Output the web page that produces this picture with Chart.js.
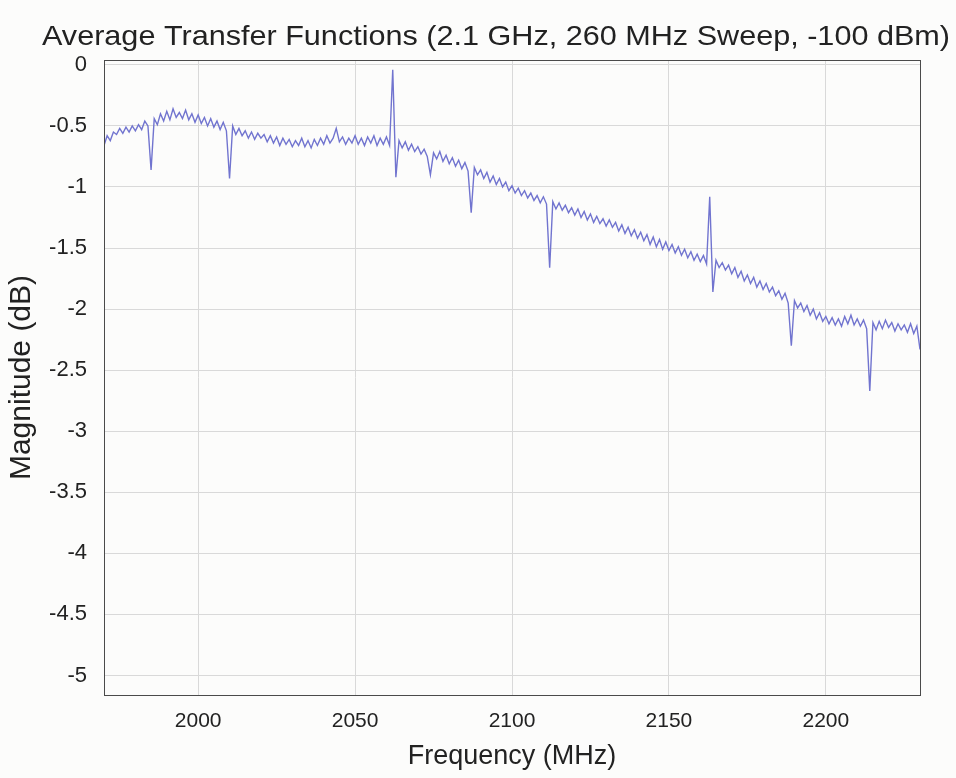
<!DOCTYPE html>
<html>
<head>
<meta charset="utf-8">
<script src="https://cdn.jsdelivr.net/npm/chart.js@4.4.0/dist/chart.umd.min.js"></script>
<style>
  html, body { margin: 0; padding: 0; background: #fcfcfb; }
  #wrap { width: 956px; height: 778px; }
</style>
</head>
<body>
<div id="wrap"><canvas id="tfChart" width="956" height="778"></canvas></div>
<script>
// frequency grid (MHz), one sample per MHz across the 260 MHz sweep
const freqStart = 1970;
const freqStep = 1;

// magnitude (dB), 10 samples per row
const magnitude = [
  -0.66, -0.58, -0.62, -0.55, -0.57, -0.52, -0.56, -0.51, -0.55, -0.50,
  -0.54, -0.49, -0.53, -0.46, -0.50, -0.86, -0.44, -0.49, -0.40, -0.46,
  -0.38, -0.45, -0.36, -0.43, -0.39, -0.44, -0.37, -0.45, -0.40, -0.47,
  -0.41, -0.48, -0.43, -0.50, -0.44, -0.51, -0.46, -0.53, -0.47, -0.54,
  -0.93, -0.50, -0.57, -0.52, -0.58, -0.54, -0.60, -0.55, -0.61, -0.56,
  -0.60, -0.57, -0.63, -0.58, -0.64, -0.59, -0.66, -0.60, -0.65, -0.61,
  -0.67, -0.62, -0.66, -0.60, -0.67, -0.62, -0.68, -0.61, -0.66, -0.60,
  -0.65, -0.58, -0.64, -0.60, -0.52, -0.63, -0.59, -0.65, -0.60, -0.64,
  -0.58, -0.65, -0.60, -0.66, -0.59, -0.64, -0.58, -0.66, -0.60, -0.65,
  -0.59, -0.66, -0.04, -0.92, -0.62, -0.68, -0.63, -0.70, -0.65, -0.71,
  -0.67, -0.73, -0.69, -0.75, -0.90, -0.72, -0.77, -0.71, -0.79, -0.74,
  -0.81, -0.76, -0.83, -0.78, -0.85, -0.80, -0.87, -1.21, -0.84, -0.90,
  -0.86, -0.93, -0.88, -0.96, -0.91, -0.98, -0.93, -1.00, -0.96, -1.03,
  -0.99, -1.05, -1.01, -1.07, -1.03, -1.09, -1.05, -1.11, -1.07, -1.13,
  -1.08, -1.14, -1.66, -1.12, -1.18, -1.13, -1.19, -1.15, -1.21, -1.17,
  -1.23, -1.18, -1.25, -1.20, -1.27, -1.22, -1.29, -1.24, -1.30, -1.26,
  -1.32, -1.27, -1.33, -1.29, -1.36, -1.31, -1.38, -1.33, -1.40, -1.35,
  -1.42, -1.37, -1.44, -1.39, -1.47, -1.41, -1.49, -1.43, -1.51, -1.45,
  -1.52, -1.47, -1.54, -1.49, -1.56, -1.51, -1.58, -1.53, -1.60, -1.55,
  -1.61, -1.56, -1.63, -1.08, -1.86, -1.60, -1.66, -1.62, -1.68, -1.64,
  -1.71, -1.66, -1.74, -1.69, -1.77, -1.72, -1.79, -1.74, -1.82, -1.77,
  -1.84, -1.79, -1.86, -1.82, -1.89, -1.85, -1.92, -1.87, -1.95, -2.30,
  -1.93, -1.99, -1.95, -2.02, -1.97, -2.05, -2.00, -2.08, -2.03, -2.10,
  -2.06, -2.12, -2.07, -2.13, -2.08, -2.14, -2.06, -2.12, -2.05, -2.13,
  -2.08, -2.14, -2.09, -2.16, -2.67, -2.11, -2.17, -2.10, -2.16, -2.09,
  -2.15, -2.11, -2.18, -2.12, -2.17, -2.13, -2.19, -2.12, -2.20, -2.14,
  -2.33
];

const xTicks = [2000, 2050, 2100, 2150, 2200];
const yTicks = [0, -0.5, -1, -1.5, -2, -2.5, -3, -3.5, -4, -4.5, -5];

const titleText = 'Average Transfer Functions (2.1 GHz, 260 MHz Sweep, -100 dBm)';
const FONT = "'Liberation Sans', Arial, sans-serif";

const points = magnitude.map((v, i) => ({ x: freqStart + i * freqStep, y: v }));

// box round the axes + title (stretched a bit, the original font is wider)
const boxPlugin = {
    id: 'boxPlugin',
    afterDraw(chart) {
        const { ctx, chartArea: a } = chart;
        ctx.save();
        ctx.strokeStyle = '#4a4a4a';
        ctx.lineWidth = 1;
        ctx.strokeRect(a.left + 0.5, a.top + 0.5, a.right - a.left, a.bottom - a.top);
        ctx.fillStyle = '#222';
        ctx.font = '28px ' + FONT;
        ctx.textAlign = 'center';
        ctx.textBaseline = 'middle';
        const w = ctx.measureText(titleText).width;
        ctx.translate(496, 37);
        ctx.scale(908 / w, 1);
        ctx.fillText(titleText, 0, 0);
        ctx.restore();
    }
};

new Chart(document.getElementById('tfChart'), {
    type: 'line',
    data: {
        datasets: [{
            data: points,
            borderColor: '#7174cf',
            borderWidth: 1.4,
            pointRadius: 0,
            tension: 0
        }]
    },
    options: {
        responsive: false,
        animation: false,
        layout: { padding: { top: 60, right: 36, left: 0, bottom: 0 } },
        plugins: {
            legend: { display: false },
            tooltip: { enabled: false }
        },
        scales: {
            x: {
                type: 'linear',
                min: 1970,
                max: 2230,
                afterBuildTicks: s => { s.ticks = xTicks.map(v => ({ value: v })); },
                afterFit: s => { s.height = 83; },
                grid: { color: '#d9d9d9', drawTicks: false },
                border: { display: false },
                ticks: {
                    color: '#222', padding: 14, font: { family: FONT, size: 21 },
                    callback: v => String(v)
                },
                title: {
                    display: true,
                    text: 'Frequency (MHz)',
                    color: '#222',
                    font: { family: FONT, size: 27 },
                    padding: { top: 0, bottom: 5 }
                }
            },
            y: {
                min: -5.16,
                max: 0.04,
                afterBuildTicks: s => { s.ticks = yTicks.map(v => ({ value: v })); },
                afterFit: s => { s.width = 104; },
                grid: { color: '#d9d9d9', drawTicks: false },
                border: { display: false },
                ticks: {
                    color: '#222', padding: 17, font: { family: FONT, size: 22 },
                    callback: v => String(v)
                },
                title: {
                    display: true,
                    text: 'Magnitude (dB)',
                    color: '#222',
                    font: { family: FONT, size: 30 },
                    padding: { top: 4, bottom: 0 }
                }
            }
        }
    },
    plugins: [boxPlugin]
});
</script>
</body>
</html>
